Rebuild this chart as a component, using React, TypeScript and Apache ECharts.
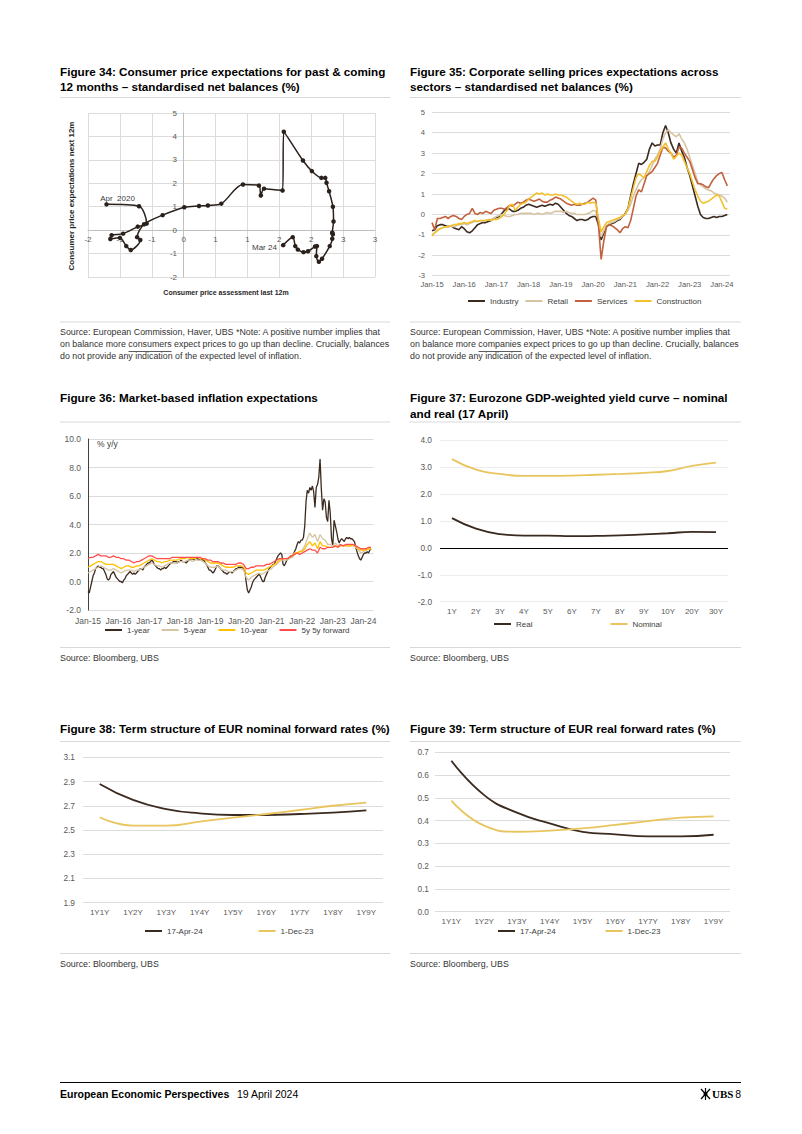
import React, { useEffect, useRef } from "react";
import * as echarts from "echarts";

const FONT = '"Liberation Sans", Arial, Helvetica, sans-serif';

// ---------- Figure 34: consumer price assessment (x) vs expectations (y), Apr-20 .. Mar-24 ----------
const fig34Assessment = [-1.21, -0.7, -0.58, -0.72, -0.95, -1.13, -1.15, -1.0, -0.9, -0.83, -0.68, -0.73, -0.62, -0.33, 0.01, 0.24, 0.38, 0.59, 0.93, 1.18, 1.21, 1.26, 1.55, 1.57, 1.87, 2.01, 2.16, 2.22, 2.24, 2.28, 2.34, 2.35, 2.33, 2.34, 2.33, 2.33, 2.29, 2.17, 2.12, 2.08, 2.09, 2.06, 1.95, 1.88, 1.79, 1.75, 1.71, 1.56];
const fig34Expectation = [1.1, 1.02, 0.28, 0.15, -0.15, -0.22, -0.38, -0.33, -0.68, -0.85, -0.42, -0.3, 0.25, 0.64, 0.98, 1.03, 1.05, 1.13, 1.95, 1.9, 1.48, 1.77, 1.69, 4.2, 2.97, 2.52, 2.23, 2.23, 2.02, 1.66, 1.0, 0.37, -0.11, -0.18, -0.12, -0.37, -0.68, -1.22, -1.35, -1.11, -0.68, -0.7, -0.9, -0.94, -0.83, -0.68, -0.3, -0.64];
const fig34StartLabel = "Apr  2020";
const fig34EndLabel = "Mar 24";

// ---------- Figure 35: monthly, Jan-15 .. Mar-24 ----------
const fig35StartYear = 2015;
const fig35Industry = [
  -0.8, -0.75, -0.55, -0.5, -0.5, -0.55, -0.6, -0.55, -0.65, -0.7, -0.75, -0.6,
  -0.7, -0.85, -0.9, -0.8, -0.65, -0.5, -0.45, -0.4, -0.4, -0.35, -0.3, -0.2,
  -0.15, -0.1, 0.05, 0.2, 0.3, 0.25, 0.15, 0.15, 0.2, 0.3, 0.35, 0.45,
  0.5, 0.45, 0.4, 0.35, 0.4, 0.45, 0.4, 0.45, 0.5, 0.45, 0.55, 0.5,
  0.35, 0.2, 0.05, -0.05, -0.1, -0.2, -0.3, -0.25, -0.25, -0.3, -0.25, -0.15,
  -0.1, -0.1, -0.5, -1.25, -0.9, -0.6, -0.5, -0.45, -0.4, -0.3, -0.25, -0.1,
  0.05, 0.3, 0.9, 1.5, 2.0, 2.5, 2.45, 2.55, 2.7, 3.2, 3.5, 3.35,
  3.4, 3.4, 4.0, 4.35, 4.0, 3.5, 3.2, 3.0, 3.5, 3.1, 2.8, 2.3,
  1.9, 1.4, 0.9, 0.4, 0.0, -0.15, -0.2, -0.2, -0.15, -0.1, -0.15, -0.1,
  -0.1, -0.05, 0.0,
];
const fig35Retail = [
  -1.0, -0.9, -0.75, -0.7, -0.65, -0.6, -0.6, -0.55, -0.6, -0.55, -0.5, -0.5,
  -0.45, -0.5, -0.45, -0.4, -0.35, -0.35, -0.3, -0.35, -0.3, -0.25, -0.25, -0.2,
  -0.1, -0.05, 0.0, -0.05, -0.1, -0.1, -0.05, 0.0, 0.0, 0.05, 0.05, 0.05,
  0.05, 0.05, 0.0, 0.05, 0.05, 0.0, 0.05, 0.1, 0.05, 0.1, 0.15, 0.15,
  0.15, 0.1, 0.15, 0.1, 0.05, 0.05, 0.0, 0.0, 0.0, 0.0, 0.05, 0.1,
  0.2, 0.15, -0.3, -1.1, -0.8, -0.55, -0.45, -0.4, -0.35, -0.25, -0.2, -0.1,
  0.0, 0.2, 0.5, 0.9, 1.2, 1.5, 1.7, 1.8, 1.9, 2.1, 2.4, 2.7,
  2.9, 3.2, 3.7, 4.0, 4.15, 4.0, 3.9, 3.8, 3.95, 3.7, 3.5, 3.2,
  2.8, 2.4, 2.0, 1.6, 1.45, 1.35, 1.25, 1.2, 1.15, 1.05, 1.0, 0.95,
  0.9, 0.8, 0.6,
];
const fig35Services = [
  -0.4, -0.75, -0.2, -0.2, -0.15, -0.1, -0.2, -0.1, -0.05, -0.1, -0.2, -0.25,
  -0.1, 0.0, 0.05, 0.3, 0.05, 0.0, 0.1, 0.05, 0.15, 0.1, 0.05, 0.2,
  0.25, 0.3, 0.3, 0.25, 0.35, 0.45, 0.4, 0.5, 0.6, 0.55, 0.6, 0.7,
  0.75, 0.7, 0.65, 0.7, 0.75, 0.65, 0.6, 0.6, 0.7, 0.75, 0.85, 0.8,
  0.75, 0.65, 0.55, 0.5, 0.45, 0.5, 0.45, 0.45, 0.5, 0.55, 0.6, 0.7,
  0.8, 0.7, -0.5, -2.2, -1.3, -0.6, -0.5, -0.55, -0.65, -0.75, -0.9, -0.7,
  -0.6, -0.65, -0.3, 0.3, 0.9, 1.2, 1.1, 1.5, 1.9, 2.0, 2.1, 2.3,
  2.5, 2.9, 3.3, 3.25, 3.1, 3.0, 2.8, 2.9, 3.3, 3.25, 3.0, 2.8,
  2.6, 2.2, 1.8, 1.5, 1.5, 1.45, 1.35, 1.3, 1.55, 1.75, 1.9, 2.0,
  2.05, 1.7, 1.4,
];
const fig35Construction = [
  -1.05, -0.9, -0.8, -0.7, -0.65, -0.6, -0.6, -0.55, -0.5, -0.5, -0.45, -0.45,
  -0.4, -0.45, -0.4, -0.35, -0.3, -0.35, -0.3, -0.3, -0.3, -0.25, -0.3, -0.25,
  -0.25, -0.2, -0.1, 0.05, 0.2, 0.45, 0.5, 0.2, 0.35, 0.5, 0.55, 0.6,
  0.75, 0.85, 0.95, 1.05, 1.0, 1.05, 0.95, 1.0, 0.95, 0.95, 1.0, 0.95,
  0.95, 0.9, 0.85, 0.75, 0.65, 0.55, 0.5, 0.55, 0.5, 0.5, 0.6, 0.55,
  0.6, 0.55, -0.2, -0.85, -0.6, -0.4, -0.35, -0.3, -0.25, -0.2, -0.15, -0.05,
  0.0, 0.3, 0.8, 1.3, 1.8, 2.0, 1.9, 1.8, 2.1, 2.4, 2.6, 2.6,
  2.8, 3.1, 3.3, 3.5, 3.2, 3.0, 2.7, 2.85, 3.0, 2.9, 2.6, 2.3,
  2.0, 1.6, 1.2, 0.9, 0.65, 0.55, 0.6, 0.65, 0.75, 0.85, 0.95, 0.9,
  0.6, 0.3, 0.25,
];

// ---------- Figure 36: 1-year semi-monthly, others monthly, Jan-15 .. Apr-24 ----------
const fig36StartYear = 2015;
const fig36OneYear = [
  -0.7, -0.8, -0.4, 0.0, 0.4, 0.6, 0.9, 1.0, 1.1, 1.0, 1.0, 0.9, 0.9, 0.7, 0.5, 0.2, 0.1, 0.2, 0.5, 0.6, 0.7, 0.5, 0.3, 0.2,
  0.1, 0.0, 0.0, -0.1, 0.1, 0.2, 0.4, 0.5, 0.6, 0.7, 0.6, 0.5, 0.6, 0.5, 0.6, 0.7, 0.8, 0.9, 0.9, 0.8, 1.0, 1.1, 1.2, 1.3,
  1.3, 1.4, 1.5, 1.4, 1.2, 1.1, 1.0, 0.9, 0.9, 0.8, 0.9, 0.9, 1.0, 0.9, 1.0, 1.1, 1.2, 1.3, 1.3, 1.4, 1.4, 1.4, 1.3, 1.4,
  1.4, 1.5, 1.4, 1.4, 1.4, 1.3, 1.4, 1.5, 1.5, 1.6, 1.6, 1.5, 1.6, 1.6, 1.6, 1.5, 1.6, 1.6, 1.5, 1.5, 1.3, 1.2, 1.0, 0.8,
  0.8, 0.7, 0.6, 0.7, 0.9, 1.1, 1.1, 1.0, 0.9, 0.8, 0.7, 0.6, 0.6, 0.5, 0.6, 0.7, 0.7, 0.6, 0.7, 0.8, 0.9, 0.9, 1.0, 1.0,
  1.0, 1.0, 0.9, 0.8, 0.0, -0.6, -0.8, -0.6, -0.4, -0.1, 0.1, 0.2, 0.3, 0.4, 0.5, 0.4, 0.2, 0.0, 0.0, 0.3, 0.5, 0.7, 0.9, 1.0,
  1.1, 1.2, 1.2, 1.4, 1.6, 1.8, 1.9, 2.0, 1.9, 1.2, 1.1, 1.3, 1.5, 1.6, 1.7, 1.8, 1.7, 1.9, 2.1, 2.3, 2.6, 2.8, 2.7, 2.9,
  2.9, 3.1, 3.9, 5.6, 6.4, 6.2, 6.6, 6.4, 6.7, 6.3, 5.2, 6.6, 6.8, 7.3, 8.6, 6.5, 5.0, 5.8, 5.6, 4.5, 4.2, 5.7, 4.8, 3.0,
  2.5, 4.3, 3.9, 3.5, 3.0, 2.7, 2.9, 3.0, 2.9, 2.8, 3.0, 3.1, 3.0, 3.1, 3.0, 3.0, 2.9, 2.8, 2.4, 2.1, 1.8, 1.6, 1.5, 1.7,
  1.9, 2.0, 2.0, 2.1, 2.0, 2.2, 2.3,
];
const fig36FiveYear = [
  0.6, 0.7, 0.8, 0.9, 1.0, 1.1, 1.0, 0.9, 0.8, 0.8, 0.9, 0.8,
  0.7, 0.6, 0.7, 0.8, 0.8, 0.8, 0.7, 0.8, 0.8, 0.9, 1.0, 1.1,
  1.2, 1.3, 1.2, 1.1, 1.1, 1.0, 1.1, 1.2, 1.3, 1.3, 1.3, 1.3,
  1.4, 1.4, 1.4, 1.5, 1.5, 1.4, 1.5, 1.5, 1.5, 1.4, 1.3, 1.1,
  1.0, 1.0, 1.0, 1.1, 0.9, 0.8, 0.8, 0.7, 0.7, 0.7, 0.8, 0.9,
  0.9, 0.8, 0.3, 0.1, 0.3, 0.4, 0.5, 0.6, 0.5, 0.6, 0.7, 0.8,
  0.9, 1.1, 1.2, 1.4, 1.5, 1.5, 1.5, 1.6, 1.7, 1.9, 2.0, 2.1,
  2.2, 2.5, 3.0, 3.4, 3.1, 3.3, 2.8, 3.3, 3.0, 2.9, 2.6, 2.6,
  2.5, 2.7, 2.5, 2.6, 2.5, 2.5, 2.5, 2.5, 2.5, 2.4, 2.2, 2.0,
  2.1, 2.2, 2.3, 2.3,
];
const fig36TenYear = [
  1.0, 1.1, 1.2, 1.3, 1.4, 1.4, 1.3, 1.2, 1.2, 1.2, 1.2, 1.1,
  1.0, 0.9, 1.0, 1.1, 1.1, 1.0, 1.0, 1.1, 1.1, 1.2, 1.3, 1.4,
  1.5, 1.6, 1.5, 1.4, 1.4, 1.3, 1.4, 1.4, 1.5, 1.5, 1.5, 1.5,
  1.6, 1.6, 1.6, 1.7, 1.6, 1.6, 1.6, 1.7, 1.6, 1.6, 1.5, 1.4,
  1.3, 1.3, 1.3, 1.3, 1.2, 1.1, 1.0, 1.0, 1.0, 1.0, 1.1, 1.1,
  1.1, 1.0, 0.6, 0.5, 0.6, 0.7, 0.8, 0.8, 0.8, 0.8, 0.9, 1.0,
  1.1, 1.2, 1.3, 1.5, 1.6, 1.6, 1.6, 1.7, 1.8, 2.0, 2.0, 2.1,
  2.1, 2.3, 2.6, 2.8, 2.5, 2.7, 2.3, 2.8, 2.5, 2.5, 2.4, 2.4,
  2.4, 2.5, 2.4, 2.5, 2.5, 2.5, 2.5, 2.5, 2.6, 2.5, 2.3, 2.2,
  2.2, 2.2, 2.3, 2.3,
];
const fig36FiveFive = [
  1.6, 1.7, 1.7, 1.8, 1.9, 1.8, 1.8, 1.8, 1.7, 1.7, 1.8, 1.7,
  1.7, 1.6, 1.6, 1.5, 1.5, 1.4, 1.3, 1.4, 1.4, 1.5, 1.6, 1.7,
  1.8, 1.8, 1.7, 1.6, 1.6, 1.6, 1.6, 1.6, 1.6, 1.7, 1.7, 1.7,
  1.7, 1.7, 1.7, 1.7, 1.7, 1.7, 1.7, 1.7, 1.7, 1.6, 1.6, 1.5,
  1.5, 1.4, 1.4, 1.4, 1.3, 1.3, 1.2, 1.2, 1.2, 1.2, 1.2, 1.3,
  1.3, 1.2, 0.9, 0.9, 1.0, 1.0, 1.1, 1.1, 1.1, 1.1, 1.2, 1.2,
  1.3, 1.4, 1.5, 1.6, 1.6, 1.6, 1.6, 1.7, 1.8, 1.9, 2.0, 1.9,
  2.0, 2.1, 2.2, 2.3, 2.2, 2.2, 2.0, 2.4, 2.3, 2.3, 2.4, 2.4,
  2.4, 2.5, 2.4, 2.6, 2.5, 2.6, 2.6, 2.6, 2.6, 2.5, 2.4, 2.3,
  2.3, 2.3, 2.4, 2.4,
];

// ---------- Figure 37 ----------
const fig37Tenors = ["1Y", "2Y", "3Y", "4Y", "5Y", "6Y", "7Y", "8Y", "9Y", "10Y", "20Y", "30Y"];
const fig37Real = [1.1, 0.71, 0.51, 0.45, 0.45, 0.43, 0.44, 0.46, 0.5, 0.54, 0.59, 0.58];
const fig37Nominal = [3.29, 2.9, 2.74, 2.67, 2.67, 2.68, 2.71, 2.74, 2.78, 2.85, 3.04, 3.16];

// ---------- Figure 38 / 39 ----------
const fwdTenors = ["1Y1Y", "1Y2Y", "1Y3Y", "1Y4Y", "1Y5Y", "1Y6Y", "1Y7Y", "1Y8Y", "1Y9Y"];
const fig38Apr = [2.88, 2.748, 2.673, 2.637, 2.624, 2.624, 2.632, 2.643, 2.662];
const fig38Dec = [2.605, 2.536, 2.536, 2.569, 2.602, 2.632, 2.665, 2.7, 2.726];
const fig39Apr = [0.663, 0.512, 0.435, 0.388, 0.351, 0.34, 0.331, 0.331, 0.338];
const fig39Dec = [0.488, 0.378, 0.351, 0.356, 0.366, 0.381, 0.398, 0.413, 0.419];

// ---------- colours ----------
const C_DARK = "#3b2a20";
const C_BEIGE = "#d6c4a2";
const C_TERRA = "#c2613f";
const C_GOLD = "#f2c12e";
const C_ORANGE = "#ffc000";
const C_RED = "#ff4d4d";
const C_YEL = "#e8c55e";
const GRID_C = "#dcdcdc";
const LABEL_C = "#595959";

function txt(x: number, y: number, text: string, size: number, weight = "normal", fill = "#000", align = "left", extra: any = {}) {
  return {
    type: "text",
    x,
    y,
    silent: true,
    ...extra,
    style: { text, fontSize: size, fontWeight: weight, fontFamily: FONT, fill, textAlign: align, textVerticalAlign: "middle" },
  };
}
function hline(x1: number, x2: number, y: number, stroke = "#d9d9d9", w = 1) {
  return { type: "line", silent: true, shape: { x1, y1: y, x2, y2: y }, style: { stroke, lineWidth: w } };
}

function yearFormatter(v: number) {
  const r = Math.round(v);
  if (Math.abs(v - r) > 1e-6) return "";
  return "Jan-" + String(r).slice(2);
}
function roundAway(v: number) {
  if (Math.abs(v) < 1e-9) return "0";
  const r = Math.sign(v) * Math.round(Math.abs(v) + 1e-9);
  return String(r);
}

function buildOption() {
  const axisLabel = (size: number, margin: number, formatter?: any) => ({
    fontSize: size,
    color: LABEL_C,
    fontFamily: FONT,
    margin,
    ...(formatter ? { formatter } : {}),
  });
  const split = { show: true, lineStyle: { color: GRID_C, width: 1 } };

  const last34 = fig34Assessment.length - 1;
  const fig34Data = fig34Assessment.map((x, i) => {
    const item: any = { value: [x, fig34Expectation[i]] };
    if (i === 0)
      item.label = { show: true, position: "top", offset: [11, 5], formatter: fig34StartLabel, fontSize: 8, color: "#404040", fontFamily: FONT };
    if (i === last34)
      item.label = { show: true, position: "left", distance: 4, offset: [0, 2], formatter: fig34EndLabel, fontSize: 8, color: "#404040", fontFamily: FONT };
    return item;
  });

  const monthly = (start: number, arr: number[], perYear = 12) => arr.map((v, i) => [start + i / perYear, v]);

  const lineSeries = (name: string, data: any[], color: string, xi: number, width: number, extra: any = {}) => ({
    type: "line",
    name,
    xAxisIndex: xi,
    yAxisIndex: xi,
    data,
    showSymbol: false,
    symbol: "none",
    lineStyle: { color, width },
    itemStyle: { color },
    emphasis: { disabled: true },
    ...extra,
  });

  const legendBase = {
    orient: "horizontal",
    icon: "rect",
    itemWidth: 17,
    itemHeight: 2,
    padding: 0,
    selectedMode: false,
    textStyle: { fontSize: 8, color: "#404040", fontFamily: FONT },
  };

  const sourceL1 = "Source: European Commission, Haver, UBS *Note: A positive number implies that";
  const sourceL3 = "do not provide any indication of the expected level of inflation.";
  const SRC = 8.85;

  const graphic: any[] = [
    // titles
    txt(60, 71, "Figure 34: Consumer price expectations for past & coming", 11.7, "bold"),
    txt(60, 86.5, "12 months \u2013 standardised net balances (%)", 11.7, "bold"),
    txt(410, 71, "Figure 35: Corporate selling prices expectations across", 11.7, "bold"),
    txt(410, 86.5, "sectors \u2013 standardised net balances (%)", 11.7, "bold"),
    hline(60, 390, 97.5),
    hline(410, 741, 97.5),
    // fig 34 axis names
    txt(71.5, 196, "Consumer price expectations next 12m", 8, "bold", "#262626", "center", { rotation: Math.PI / 2 }),
    txt(226, 292.5, "Consumer price assessment last 12m", 7, "bold", "#262626", "center"),
    // sources 34/35
    hline(60, 390, 322),
    hline(410, 741, 322),
    txt(60, 332, sourceL1, SRC, "normal", "#333"),
    txt(60, 344, "on balance more consumers expect prices to go up than decline. Crucially, balances", SRC, "normal", "#333"),
    txt(60, 356, sourceL3, SRC, "normal", "#333"),
    hline(128.5, 171.5, 351.5, "#333", 0.8),
    txt(410, 332, sourceL1, SRC, "normal", "#333"),
    txt(410, 344, "on balance more companies expect prices to go up than decline. Crucially, balances", SRC, "normal", "#333"),
    txt(410, 356, sourceL3, SRC, "normal", "#333"),
    hline(478.5, 521.5, 351.5, "#333", 0.8),
    // titles 36/37
    txt(60, 397, "Figure 36: Market-based inflation expectations", 11.7, "bold"),
    txt(410, 397, "Figure 37: Eurozone GDP-weighted yield curve \u2013 nominal", 11.7, "bold"),
    txt(410, 413, "and real (17 April)", 11.7, "bold"),
    hline(60, 390, 422),
    hline(410, 741, 422),
    txt(97, 443.5, "% y/y", 8.5, "normal", "#404040"),
    hline(60, 390, 647.5),
    hline(410, 741, 647.5),
    txt(60, 658, "Source: Bloomberg, UBS", SRC, "normal", "#333"),
    txt(410, 658, "Source: Bloomberg, UBS", SRC, "normal", "#333"),
    // titles 38/39
    txt(60, 728, "Figure 38: Term structure of EUR nominal forward rates (%)", 11.7, "bold"),
    txt(410, 728, "Figure 39: Term structure of EUR real forward rates (%)", 11.7, "bold"),
    hline(60, 390, 741.5),
    hline(410, 741, 741.5),
    hline(60, 390, 953.5),
    hline(410, 741, 953.5),
    txt(60, 964, "Source: Bloomberg, UBS", SRC, "normal", "#333"),
    txt(410, 964, "Source: Bloomberg, UBS", SRC, "normal", "#333"),
    // footer
    hline(60, 741, 1082.5, "#000", 1),
    txt(60, 1094, "European Economic Perspectives", 10.5, "bold"),
    txt(237, 1094, "19 April 2024", 10.5, "normal"),
    { type: "line", silent: true, shape: { x1: 701, y1: 1089, x2: 710, y2: 1099 }, style: { stroke: "#000", lineWidth: 1.2 } },
    { type: "line", silent: true, shape: { x1: 710, y1: 1089, x2: 701, y2: 1099 }, style: { stroke: "#000", lineWidth: 1.2 } },
    { type: "line", silent: true, shape: { x1: 705.5, y1: 1088, x2: 705.5, y2: 1100 }, style: { stroke: "#000", lineWidth: 1.2 } },
    { type: "circle", silent: true, shape: { cx: 705.5, cy: 1094, r: 2 }, style: { fill: "#000" } },
    { type: "text", x: 712, y: 1094, silent: true, style: { text: "UBS", fontSize: 11, fontWeight: "bold", fontFamily: '"Liberation Serif", serif', fill: "#000", textAlign: "left", textVerticalAlign: "middle" } },
    txt(741, 1094, "8", 10.5, "normal", "#000", "right"),
  ];

  return {
    animation: false,
    backgroundColor: "#ffffff",
    textStyle: { fontFamily: FONT },
    grid: [
      { left: 88, top: 113, width: 287, height: 164, outerBoundsMode: "none" },
      { left: 432, top: 112.3, width: 298, height: 163.4, outerBoundsMode: "none" },
      { left: 88, top: 439, width: 285.5, height: 171, outerBoundsMode: "none" },
      { left: 440, top: 440, width: 288, height: 161.7, outerBoundsMode: "none" },
      { left: 83, top: 757.3, width: 300, height: 145.4, outerBoundsMode: "none" },
      { left: 435, top: 752.3, width: 295, height: 159.4, outerBoundsMode: "none" },
    ],
    xAxis: [
      {
        gridIndex: 0, type: "value", min: -1.5, max: 3, interval: 0.5,
        axisLine: { show: true, onZero: true, lineStyle: { color: "#bfbfbf" } },
        axisTick: { show: false },
        splitLine: split,
        axisLabel: axisLabel(8, -42, roundAway),
      },
      {
        gridIndex: 1, type: "value", min: 2015, max: 2024.25, interval: 1,
        axisLine: { show: false }, axisTick: { show: false }, splitLine: { show: false },
        axisLabel: { ...axisLabel(7.6, 5, yearFormatter), showMaxLabel: false },
      },
      {
        gridIndex: 2, type: "value", min: 2015, max: 2024.33, interval: 1,
        axisLine: { show: false }, axisTick: { show: false }, splitLine: { show: false },
        axisLabel: { ...axisLabel(8.5, 6, yearFormatter), showMaxLabel: false },
      },
      {
        gridIndex: 3, type: "category", data: fig37Tenors, boundaryGap: true,
        axisLine: { show: false }, axisTick: { show: false }, splitLine: { show: false },
        axisLabel: axisLabel(8, 6),
      },
      {
        gridIndex: 4, type: "category", data: fwdTenors, boundaryGap: true,
        axisLine: { show: false }, axisTick: { show: false }, splitLine: { show: false },
        axisLabel: axisLabel(8, 6),
      },
      {
        gridIndex: 5, type: "category", data: fwdTenors, boundaryGap: true,
        axisLine: { show: false }, axisTick: { show: false }, splitLine: { show: false },
        axisLabel: axisLabel(8, 6),
      },
    ],
    yAxis: [
      {
        gridIndex: 0, type: "value", min: -2, max: 5, interval: 1,
        axisLine: { show: true, onZero: true, lineStyle: { color: "#bfbfbf" } },
        axisTick: { show: false },
        splitLine: split,
        axisLabel: axisLabel(8, -89),
      },
      {
        gridIndex: 1, type: "value", min: -3, max: 5, interval: 1,
        axisLine: { show: false }, axisTick: { show: false }, splitLine: split,
        axisLabel: axisLabel(7.6, 7),
      },
      {
        gridIndex: 2, type: "value", min: -2, max: 10, interval: 2,
        axisLine: { show: true, lineStyle: { color: "#404040" } }, axisTick: { show: false }, splitLine: split,
        axisLabel: axisLabel(8.5, 7, (v: number) => v.toFixed(1)),
      },
      {
        gridIndex: 3, type: "value", min: -2, max: 4, interval: 1,
        axisLine: { show: false }, axisTick: { show: false }, splitLine: { show: true, lineStyle: { color: "#ececec" } },
        axisLabel: axisLabel(8.3, 8, (v: number) => v.toFixed(1)),
      },
      {
        gridIndex: 4, type: "value", min: 1.9, max: 3.1, interval: 0.2,
        axisLine: { show: false }, axisTick: { show: false }, splitLine: split,
        axisLabel: axisLabel(8.3, 8, (v: number) => v.toFixed(1)),
      },
      {
        gridIndex: 5, type: "value", min: 0, max: 0.7, interval: 0.1,
        axisLine: { show: false }, axisTick: { show: false }, splitLine: split,
        axisLabel: axisLabel(8.3, 6, (v: number) => v.toFixed(1)),
      },
    ],
    legend: [
      { ...legendBase, data: ["Industry", "Retail", "Services", "Construction"], left: 468, top: 297, itemGap: 7 },
      { ...legendBase, data: ["1-year", "5-year", "10-year", "5y 5y forward"], left: 105, top: 626, itemGap: 12 },
      { ...legendBase, data: ["Real", "Nominal"], left: 494, top: 620, itemGap: 78 },
      { ...legendBase, data: ["17-Apr-24", "1-Dec-23"], left: 145, top: 927, itemGap: 56 },
      { ...legendBase, data: ["17-Apr-24", "1-Dec-23"], left: 498, top: 927, itemGap: 50 },
    ],
    series: [
      {
        type: "line",
        name: "Consumer prices",
        xAxisIndex: 0,
        yAxisIndex: 0,
        data: fig34Data,
        smooth: 0.3,
        symbol: "circle",
        symbolSize: 4.5,
        showSymbol: true,
        lineStyle: { color: "#2b211c", width: 1.5 },
        itemStyle: { color: "#2b211c" },
        emphasis: { disabled: true },
      },
      lineSeries("Industry", monthly(fig35StartYear, fig35Industry), C_DARK, 1, 1.6),
      lineSeries("Retail", monthly(fig35StartYear, fig35Retail), C_BEIGE, 1, 1.6),
      lineSeries("Services", monthly(fig35StartYear, fig35Services), C_TERRA, 1, 1.6),
      lineSeries("Construction", monthly(fig35StartYear, fig35Construction), C_GOLD, 1, 1.6),
      lineSeries("1-year", monthly(fig36StartYear, fig36OneYear, 24), C_DARK, 2, 1.3),
      lineSeries("5-year", monthly(fig36StartYear, fig36FiveYear), C_BEIGE, 2, 1.3),
      lineSeries("10-year", monthly(fig36StartYear, fig36TenYear), C_ORANGE, 2, 1.3),
      lineSeries("5y 5y forward", monthly(fig36StartYear, fig36FiveFive), C_RED, 2, 1.3),
      lineSeries("Real", fig37Real, C_DARK, 3, 1.8, {
        smooth: true,
        markLine: {
          silent: true,
          symbol: "none",
          label: { show: false },
          lineStyle: { color: "#000", width: 1, type: "solid" },
          data: [{ yAxis: 0 }],
        },
      }),
      lineSeries("Nominal", fig37Nominal, C_YEL, 3, 1.8, { smooth: true }),
      lineSeries("17-Apr-24", fig38Apr, C_DARK, 4, 1.8, { smooth: true }),
      lineSeries("1-Dec-23", fig38Dec, C_YEL, 4, 1.8, { smooth: true }),
      lineSeries("17-Apr-24", fig39Apr, C_DARK, 5, 1.8, { smooth: true }),
      lineSeries("1-Dec-23", fig39Dec, C_YEL, 5, 1.8, { smooth: true }),
    ],
    graphic,
  };
}

export default function App() {
  const ref = useRef<HTMLDivElement | null>(null);
  useEffect(() => {
    if (!ref.current) return;
    const chart = echarts.init(ref.current, undefined, { renderer: "svg" });
    chart.setOption(buildOption() as any);
    return () => {
      chart.dispose();
    };
  }, []);
  return (
    <div
      ref={ref}
      style={{ position: "absolute", left: 0, top: 0, width: 802, height: 1134, background: "#fff" }}
    />
  );
}
